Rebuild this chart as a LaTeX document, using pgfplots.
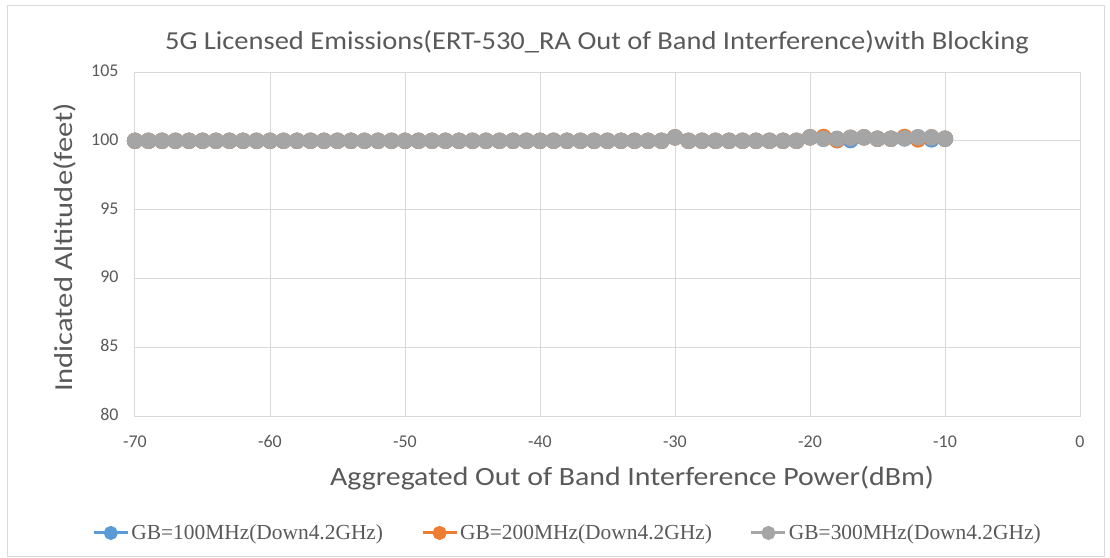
\documentclass[border=0pt]{standalone}
\usepackage{pgfplots}
\pgfplotsset{compat=1.18}
\usepackage{pgfplotstable}
\usepackage{fontspec}
\setmainfont{Carlito}
\newfontfamily\legfont{Liberation Serif}
\definecolor{xlBlue}{HTML}{5B9BD5}
\definecolor{xlOrange}{HTML}{ED7D31}
\definecolor{xlGray}{HTML}{A5A5A5}
\definecolor{xlGrid}{HTML}{D9D9D9}
\definecolor{xlText}{HTML}{595959}

% x, GB=100, GB=200, GB=300
\pgfplotstableread{
x    a      b      c
-70  100    100    100
-69  100    100    100
-68  100    100    100
-67  100    100    100
-66  100    100    100
-65  100    100    100
-64  100    100    100
-63  100    100    100
-62  100    100    100
-61  100    100    100
-60  100    100    100
-59  100    100    100
-58  100    100    100
-57  100    100    100
-56  100    100    100
-55  100    100    100
-54  100    100    100
-53  100    100    100
-52  100    100    100
-51  100    100    100
-50  100    100    100
-49  100    100    100
-48  100    100    100
-47  100    100    100
-46  100    100    100
-45  100    100    100
-44  100    100    100
-43  100    100    100
-42  100    100    100
-41  100    100    100
-40  100    100    100
-39  100    100    100
-38  100    100    100
-37  100    100    100
-36  100    100    100
-35  100    100    100
-34  100    100    100
-33  100    100    100
-32  100    100    100
-31  100    100    100
-30  100.25 100.25 100.25
-29  100    100    100
-28  100    100    100
-27  100    100    100
-26  100    100    100
-25  100    100    100
-24  100    100    100
-23  100    100    100
-22  100    100    100
-21  100    100    100
-20  100.25 100.25 100.25
-19  100.15 100.28 100.15
-18  100.05 100.05 100.15
-17  100.05 100.22 100.22
-16  100.25 100.25 100.25
-15  100.15 100.15 100.15
-14  100.15 100.15 100.15
-13  100.18 100.28 100.18
-12  100.25 100.10 100.25
-11  100.10 100.25 100.25
-10  100.15 100.15 100.15
}\data

\begin{document}
\begin{tikzpicture}
\useasboundingbox (-135bp,-142bp) rectangle (975bp,416bp);
\draw[xlGrid,line width=1bp] (-127bp,-140bp) rectangle (969bp,410bp);
\begin{axis}[
  at={(0,0)},anchor=south west,
  scale only axis,
  width=945bp,height=344bp,
  xmin=-70,xmax=0,ymin=80,ymax=105,
  xtick={-70,-60,-50,-40,-30,-20,-10,0},
  xticklabels={-70,-60,-50,-40,-30,-20,-10,0},
  ytick={80,85,90,95,100,105},
  major tick length=0pt,
  grid=major,
  grid style={xlGrid,line width=1bp},
  axis line style={xlGrid,line width=1bp},
  tick label style={font=\fontsize{18}{20}\selectfont,color=xlText},
  /pgf/number format/assume math mode=true,
  xticklabel style={anchor=base,yshift=-31bp},
  yticklabel style={anchor=base east,xshift=-13bp,yshift=-4.5bp},
  legend columns=3,
  legend style={draw=none,fill=none,at={(0.4577,-0.340)},anchor=center,
    font=\legfont\fontsize{21.5}{24}\selectfont,text=xlText,
    /tikz/every even column/.append style={column sep=36bp}},
  legend cell align=left,
  legend image code/.code={%
    \draw[mark repeat=2,mark phase=2,mark size=5.5bp]
      plot coordinates {(0bp,0bp)(17bp,0bp)(34bp,0bp)};},
]
\addplot[xlBlue,line width=3bp,mark=*,mark size=6.7bp] table[x=x,y=a] {\data};
\addlegendentry{GB=100MHz(Down4.2GHz)}
\addplot[xlOrange,line width=3bp,mark=*,mark size=6.7bp] table[x=x,y=b] {\data};
\addlegendentry{GB=200MHz(Down4.2GHz)}
\addplot[xlGray,line width=3bp,mark=*,mark size=6.7bp] table[x=x,y=c] {\data};
\addlegendentry{GB=300MHz(Down4.2GHz)}
\end{axis}
\node[color=xlText,font=\fontsize{26}{30}\selectfont,anchor=base] at (597bp-135bp,366bp)
  {\scalebox{1.1}[1]{5G Licensed Emissions(ERT-530\_RA Out of Band Interference)with Blocking}};
\node[color=xlText,font=\fontsize{26}{30}\selectfont,rotate=90,anchor=base] at (-62bp,168.5bp)
  {\scalebox{1.18}[1]{Indicated Altitude(feet)}};
\node[color=xlText,font=\fontsize{26.5}{30}\selectfont,anchor=base] at (497bp,-69bp)
  {\scalebox{1.13}[1]{Aggregated Out of Band Interference Power(dBm)}};
\end{tikzpicture}
\end{document}
